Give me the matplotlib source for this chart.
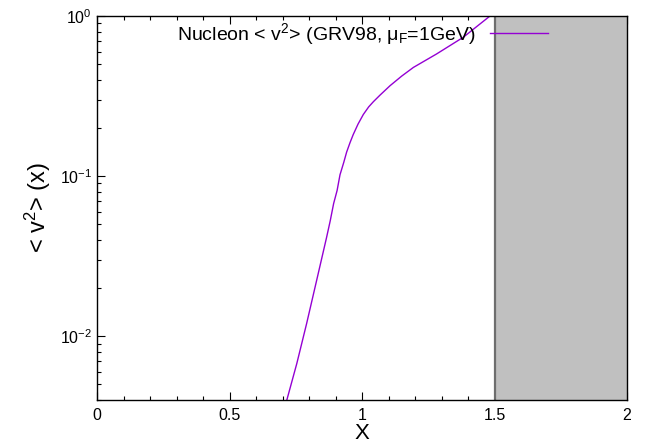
import matplotlib
matplotlib.use("Agg")
from matplotlib import pyplot as plt
from matplotlib.ticker import MultipleLocator, LogLocator, NullFormatter

plt.rcParams['font.family'] = ['Liberation Sans', 'DejaVu Sans']
plt.rcParams['mathtext.fontset'] = 'custom'
plt.rcParams['mathtext.rm'] = 'Liberation Sans'
plt.rcParams['mathtext.it'] = 'Liberation Sans'

# <v^2>(x)
x_vals = [0.716, 0.754, 0.791, 0.829, 0.866, 0.880, 0.893, 0.906, 0.917,
          0.931, 0.942, 0.955, 0.967, 0.985, 1.005, 1.025, 1.043, 1.068,
          1.106, 1.150, 1.194, 1.281, 1.382, 1.483]
v2_vals = [0.00398, 0.00676, 0.0120, 0.0224, 0.0412, 0.0525, 0.0675, 0.0813,
           0.102, 0.1216, 0.1413, 0.1622, 0.182, 0.2113, 0.2427, 0.2704,
           0.2917, 0.3206, 0.3673, 0.4217, 0.4775, 0.5788, 0.7362, 1.0]
series_label = r'Nucleon < v$^2$> (GRV98, $\mu_F$=1GeV)'

x_ticks = [0, 0.5, 1, 1.5, 2]
x_ticklabels = ['0', '0.5', '1', '1.5', '2']
forbidden = (1.5, 2.0)

fig = plt.figure(figsize=(6.58, 4.44), dpi=100)
ax = fig.add_axes([97/658, 44/444, 530/658, 384/444])
ax.set_axisbelow(True)

ax.axvspan(forbidden[0], forbidden[1], facecolor='#c0c0c0', edgecolor='none', zorder=1)
ax.axvline(forbidden[0], color='#6e6e6e', lw=1.6, zorder=2)

ax.plot(x_vals, v2_vals, color='#9400d3', lw=1.0, label=series_label, zorder=3)

ax.set_yscale('log')
ax.set_xlim(0, 2)
ax.set_ylim(0.004, 1)

ax.set_xticks(x_ticks)
ax.set_xticklabels(x_ticklabels)
ax.xaxis.set_minor_locator(MultipleLocator(0.1))
ax.yaxis.set_major_locator(LogLocator(base=10, numticks=10))
ax.yaxis.set_minor_locator(LogLocator(base=10, subs=range(2, 10), numticks=10))
ax.yaxis.set_minor_formatter(NullFormatter())

ax.tick_params(which='both', direction='in', top=True, right=False, labelsize=11.5, colors='black')
ax.tick_params(which='major', length=6, width=0.8)
ax.tick_params(which='minor', length=3, width=0.8)
ax.tick_params(axis='x', pad=6)
for s in ax.spines.values():
    s.set_linewidth(1.0)
    s.set_zorder(4)

ax.set_xlabel('X', fontsize=16, labelpad=0)
ax.set_ylabel(r'< v$^2$> (x)', fontsize=17, labelpad=5)

ax.legend(loc='upper right', bbox_to_anchor=(548/658, 1 - 21/444),
          bbox_transform=fig.transFigure, frameon=False, markerfirst=False,
          fontsize=14, handlelength=3.0, borderpad=0, handletextpad=0.75,
          borderaxespad=0)

fig.savefig('out.png', dpi=100)
